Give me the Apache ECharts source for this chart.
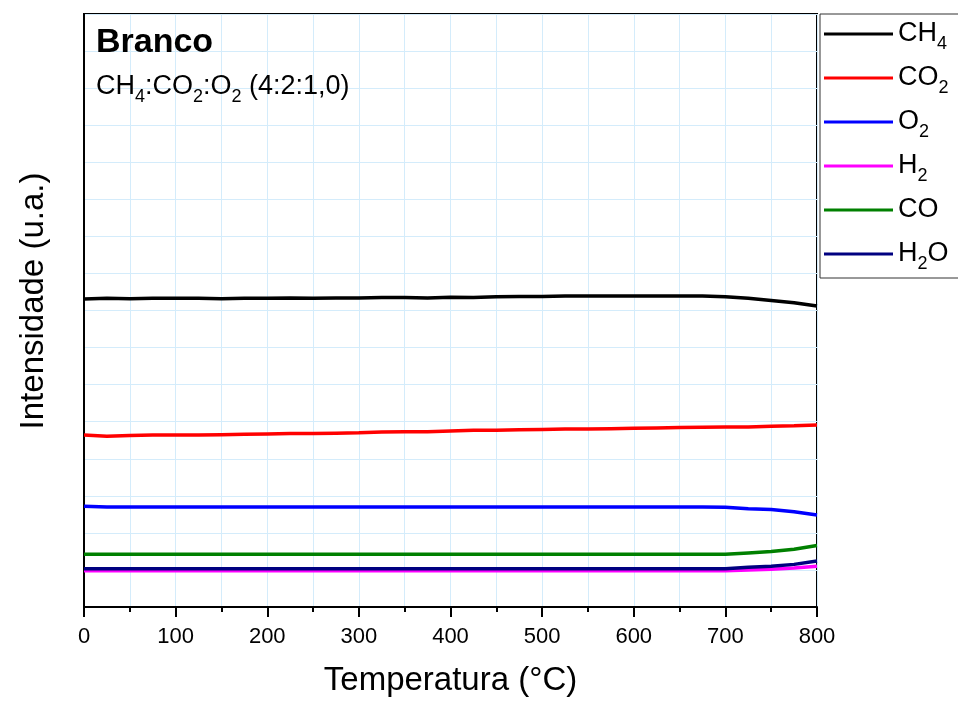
<!DOCTYPE html>
<html>
<head>
<meta charset="utf-8">
<script src="https://cdn.jsdelivr.net/npm/echarts@6/dist/echarts.min.js"></script>
<style>
  html, body { margin: 0; padding: 0; background: #fff; }
  #chart { width: 958px; height: 702px; }
</style>
</head>
<body>
<div id="chart"></div>
<script>
// temperatura (°C)
const temps = [0, 25, 50, 75, 100, 125, 150, 175, 200, 225, 250, 275, 300, 325, 350, 375, 400,
  425, 450, 475, 500, 525, 550, 575, 600, 625, 650, 675, 700, 725, 750, 775, 800];

// intensidade (u.a.)
const ch4 = [8.31, 8.33, 8.32, 8.33, 8.33, 8.33, 8.32, 8.33, 8.33, 8.34, 8.33, 8.34, 8.34, 8.35, 8.35, 8.34, 8.36,
  8.35, 8.37, 8.38, 8.38, 8.39, 8.39, 8.39, 8.39, 8.39, 8.39, 8.39, 8.37, 8.33, 8.27, 8.21, 8.12];
const co2 = [4.64, 4.61, 4.63, 4.64, 4.64, 4.64, 4.65, 4.66, 4.67, 4.68, 4.68, 4.69, 4.70, 4.72, 4.73, 4.73, 4.75,
  4.77, 4.77, 4.78, 4.79, 4.80, 4.80, 4.81, 4.82, 4.83, 4.84, 4.85, 4.86, 4.86, 4.88, 4.89, 4.91];
const o2 = [2.72, 2.70, 2.70, 2.70, 2.70, 2.70, 2.70, 2.70, 2.70, 2.70, 2.70, 2.70, 2.70, 2.70, 2.70, 2.70, 2.70,
  2.70, 2.70, 2.70, 2.70, 2.70, 2.70, 2.70, 2.70, 2.70, 2.70, 2.70, 2.69, 2.65, 2.63, 2.57, 2.48];
const h2 = [0.98, 0.98, 0.98, 0.98, 0.98, 0.98, 0.98, 0.98, 0.98, 0.98, 0.98, 0.98, 0.98, 0.98, 0.98, 0.98, 0.98,
  0.98, 0.98, 0.98, 0.98, 0.98, 0.98, 0.98, 0.98, 0.98, 0.98, 0.98, 0.98, 1.00, 1.02, 1.05, 1.10];
const co = [1.42, 1.42, 1.42, 1.42, 1.42, 1.42, 1.42, 1.42, 1.42, 1.42, 1.42, 1.42, 1.42, 1.42, 1.42, 1.42, 1.42,
  1.42, 1.42, 1.42, 1.42, 1.42, 1.42, 1.42, 1.42, 1.42, 1.42, 1.42, 1.42, 1.46, 1.50, 1.56, 1.66];
const h2o = [1.03, 1.03, 1.03, 1.03, 1.03, 1.03, 1.03, 1.03, 1.03, 1.03, 1.03, 1.03, 1.03, 1.03, 1.03, 1.03, 1.03,
  1.03, 1.03, 1.03, 1.03, 1.03, 1.03, 1.03, 1.03, 1.03, 1.03, 1.03, 1.03, 1.07, 1.10, 1.15, 1.24];

const seriesNames = ["CH4", "CO2", "O2", "H2", "CO", "H2O"];
const seriesColors = ["#000000", "#ff0000", "#0000ff", "#ff00ff", "#008000", "#000080"];
const seriesData = [ch4, co2, o2, h2, co, h2o];

// rótulos com subscrito
const legendRich = {
  CH4: "{n|CH}{s|4}",
  CO2: "{n|CO}{s|2}",
  O2: "{n|O}{s|2}",
  H2: "{n|H}{s|2}",
  CO: "{n|CO}{s| }",
  H2O: "{n|H}{s|2}{n|O}",
};

const FONT = "Liberation Sans";

const myChart = echarts.init(document.getElementById("chart"));

const option = {
  animation: false,
  textStyle: { fontFamily: FONT },
  title: {
    text: "Branco",
    subtext: "{m|CH}{s|4}{m|:CO}{s|2}{m|:O}{s|2}{m| (4:2:1,0)}",
    left: 91,
    top: 21,
    itemGap: 10,
    textStyle: { fontFamily: FONT, fontSize: 34, fontWeight: "bold", color: "#000" },
    subtextStyle: {
      fontFamily: FONT,
      fontSize: 27,
      color: "#000",
      rich: {
        m: { fontFamily: FONT, fontSize: 27, color: "#000", lineHeight: 34 },
        s: { fontFamily: FONT, fontSize: 18, color: "#000", lineHeight: 34, padding: [20, 0, 0, 0] },
      },
    },
  },
  legend: {
    orient: "vertical",
    left: 820,
    top: 14,
    padding: [1, 30, 5, 4],
    itemGap: 6,
    itemWidth: 69,
    itemHeight: 3,
    icon: "rect",
    borderColor: "#333",
    borderWidth: 1,
    borderRadius: 0,
    data: seriesNames,
    formatter: (name) => legendRich[name],
    textStyle: {
      fontFamily: FONT,
      color: "#000",
      rich: {
        n: { fontFamily: FONT, fontSize: 27, color: "#000", lineHeight: 30 },
        s: { fontFamily: FONT, fontSize: 18, color: "#000", lineHeight: 30, padding: [20, 0, 0, 0] },
      },
    },
  },
  grid: {
    left: 84,
    top: 14,
    right: 141,
    bottom: 95,
    show: true,
    borderColor: "#000",
    borderWidth: 2,
    containLabel: false,
    outerBoundsMode: "none",
  },
  xAxis: {
    type: "value",
    min: 0,
    max: 800,
    interval: 100,
    name: "Temperatura (°C)",
    nameLocation: "middle",
    nameGap: 57,
    nameTextStyle: { fontFamily: FONT, fontSize: 33, color: "#000" },
    axisLine: { onZero: false, lineStyle: { color: "#000", width: 2 } },
    axisTick: { show: true, inside: false, length: 10, lineStyle: { color: "#000", width: 2 } },
    minorTick: { show: true, splitNumber: 2, length: 5, lineStyle: { color: "#000", width: 2 } },
    axisLabel: { fontFamily: FONT, fontSize: 22, color: "#000", margin: 19 },
    splitLine: { show: true, lineStyle: { color: "#d4ecfb", width: 1 } },
    minorSplitLine: { show: true, lineStyle: { color: "#d4ecfb", width: 1 } },
  },
  yAxis: {
    type: "value",
    min: 0,
    max: 16,
    interval: 1,
    name: "Intensidade (u.a.)",
    nameLocation: "middle",
    nameGap: 34,
    nameTextStyle: { fontFamily: FONT, fontSize: 33, color: "#000", padding: [0, 0, 0, 19] },
    axisLine: { show: true, lineStyle: { color: "#000", width: 2 } },
    axisTick: { show: false },
    axisLabel: { show: false },
    splitLine: { show: true, lineStyle: { color: "#d4ecfb", width: 1 } },
  },
  series: seriesNames.map((name, i) => ({
    name: name,
    type: "line",
    showSymbol: false,
    symbol: "none",
    color: seriesColors[i],
    lineStyle: { color: seriesColors[i], width: 3.5 },
    data: temps.map((t, j) => [t, seriesData[i][j]]),
  })),
};

myChart.setOption(option);
</script>
</body>
</html>
